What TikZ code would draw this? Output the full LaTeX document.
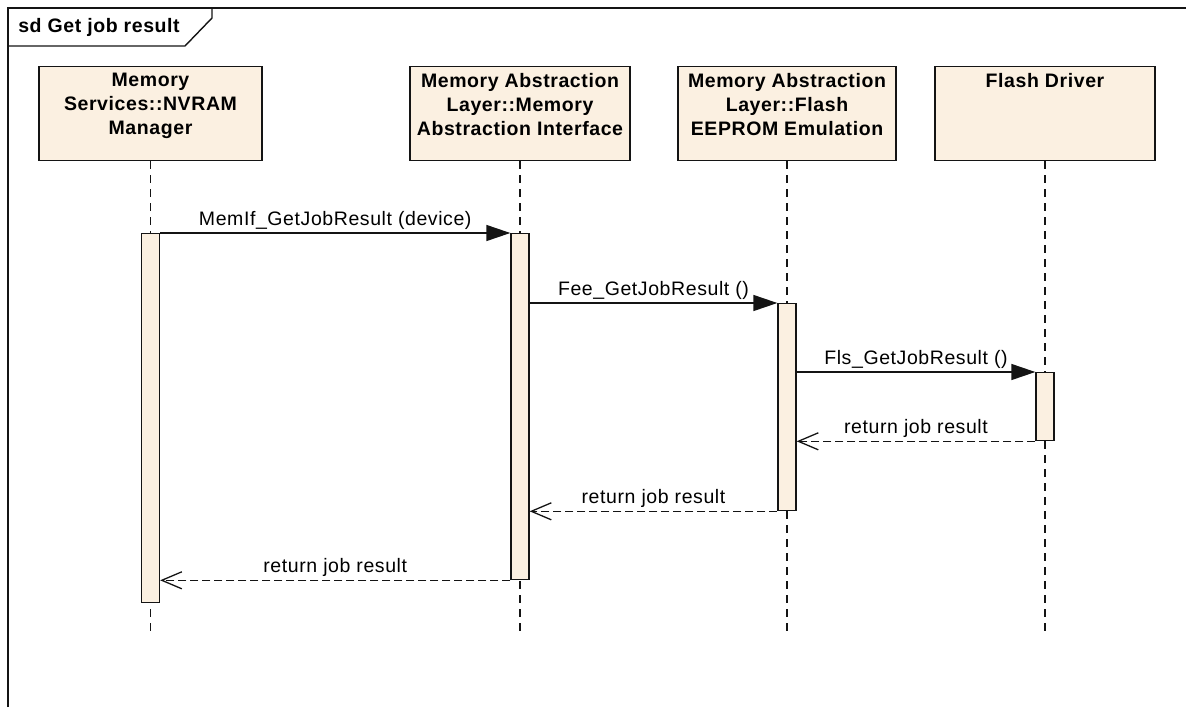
\documentclass[tikz,border=0pt]{standalone}
\usepackage{fontspec}
\setmainfont{Liberation Sans}[LetterSpace=3]
\usetikzlibrary{arrows.meta}
\definecolor{lifefill}{RGB}{251,240,225}
\definecolor{ink}{RGB}{20,20,20}
\tikzset{
  headbox/.style={draw=ink, line width=1.4pt, fill=lifefill, minimum height=94pt, anchor=north, inner sep=0pt},
  headtext/.style={anchor=north, inner sep=0pt, align=center, font=\fontsize{19.5}{24}\selectfont\bfseries},
  actbox/.style={draw=ink, line width=1.3pt, fill=lifefill, minimum width=18pt, anchor=north, inner sep=0pt},
  lifeline/.style={draw=ink, line width=1.4pt, dash pattern=on 8pt off 6pt},
  callmsg/.style={draw=ink, line width=1.3pt, -{Triangle[length=24pt,width=16pt]}},
  retmsg/.style={draw=ink, line width=1.3pt, dash pattern=on 8pt off 4pt, -{Straight Barb[length=20pt,width=17pt,line width=1.3pt]}},
  lbl/.style={above, inner sep=3pt, font=\fontsize{19.5}{22}\selectfont},
  frameline/.style={draw=ink, line width=1.4pt}
}
\begin{document}
\begin{tikzpicture}[x=1pt,y=-1pt]
\useasboundingbox (0,0) rectangle (1186,707);
% frame
\coordinate (f0) at (8,8);
\coordinate (f1) at (1186,8);
\coordinate (f2) at (8,707);
\draw[frameline] (f2) -- (f0) -- (f1);
\coordinate (p1) at (212,8);
\coordinate (p2) at (212,18);
\coordinate (p3) at (185,46);
\coordinate (p4) at (8,46);
\draw[frameline] (p1) -- (p2) -- (p3) -- (p4);
\node[font=\fontsize{19.5}{22}\selectfont\bfseries, inner sep=0pt] (title) at (99,27) {sd Get job result};

% heads
\node[headbox, minimum width=223pt] (h1) at (150.5,66) {};
\node[headbox, minimum width=220pt] (h2) at (520,66) {};
\node[headbox, minimum width=218pt] (h3) at (787,66) {};
\node[headbox, minimum width=220pt] (h4) at (1045,66) {};
\node[headtext] (t1) at (150.5,73) {Memory\\Services::NVRAM\\Manager};
\node[headtext] (t2) at (520,73) {Memory Abstraction\\Layer::Memory\\Abstraction Interface};
\node[headtext] (t3) at (787,73) {Memory Abstraction\\Layer::Flash\\EEPROM Emulation};
\node[headtext] (t4) at (1045,73) {Flash Driver};

% lifelines
\coordinate (e1) at (150.5,636);
\coordinate (e2) at (520,636);
\coordinate (e3) at (787,636);
\coordinate (e4) at (1045,636);
\draw[lifeline] (h1.south) -- (e1);
\draw[lifeline] (h2.south) -- (e2);
\draw[lifeline] (h3.south) -- (e3);
\draw[lifeline] (h4.south) -- (e4);

% activations
\node[actbox, minimum height=369pt] (a1) at (150.5,233) {};
\node[actbox, minimum height=346pt] (a2) at (520,233) {};
\node[actbox, minimum height=207pt] (a3) at (787,303) {};
\node[actbox, minimum height=68pt] (a4) at (1045,372) {};

% messages
\draw[callmsg] (a1.north east) -- node[lbl] (m1) {MemIf\_GetJobResult (device)} (a2.north west);
\draw[callmsg] (a2.east |- a3.north) -- node[lbl] (m2) {Fee\_GetJobResult ()} (a3.north west);
\draw[callmsg] (a3.east |- a4.north) -- node[lbl] (m3) {Fls\_GetJobResult ()} (a4.north west);
\draw[retmsg] (a4.south west) -- node[lbl] (r1) {return job result} (a3.east |- a4.south);
\draw[retmsg] (a3.south west) -- node[lbl] (r2) {return job result} (a2.east |- a3.south);
\draw[retmsg] (a2.south west) -- node[lbl] (r3) {return job result} (a1.east |- a2.south);
\end{tikzpicture}
\end{document}
